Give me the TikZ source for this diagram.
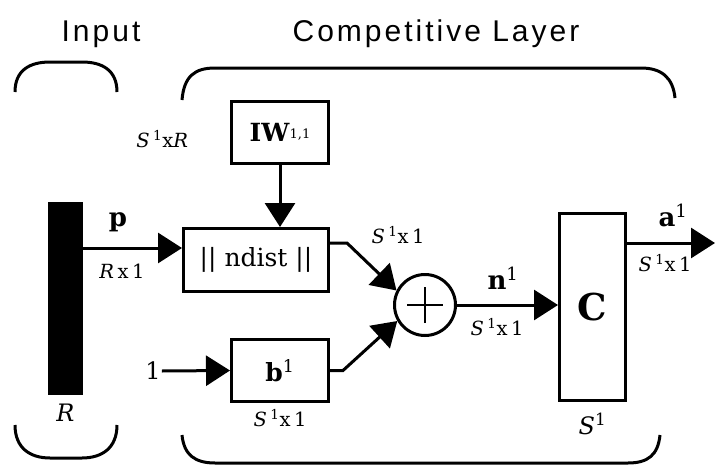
\documentclass[tikz,border=0pt]{standalone}
\usepackage{fontspec}
\setmainfont{DejaVu Serif}
\newfontfamily\headfont[LetterSpace=10]{Liberation Sans}
\newfontfamily\dimfont[LetterSpace=18]{DejaVu Serif}
\usetikzlibrary{arrows.meta, positioning}

\begin{document}
\begin{tikzpicture}[
  x=1pt, y=-1pt,
  node distance=4pt,
  box/.style={rectangle, draw=black, line width=3pt, inner sep=0pt,
              font=\fontsize{25}{27}\selectfont},
  wBox/.style={box, minimum width=97pt, minimum height=62pt},
  barBox/.style={rectangle, fill=black, inner sep=0pt, minimum width=35pt, minimum height=193pt},
  sumNode/.style={circle, draw=black, line width=3pt, inner sep=0pt, minimum size=61pt},
  headLbl/.style={font=\fontsize{30}{32}\headfont, anchor=base, inner sep=0pt},
  varLbl/.style={font=\fontsize{26}{28}\selectfont\bfseries, inner sep=1pt},
  dimLbl/.style={font=\fontsize{19.5}{21}\dimfont, inner sep=1pt},
  sizeLbl/.style={font=\fontsize{24}{26}\selectfont, inner sep=1pt},
  arr/.style={-{Triangle[length=24pt, width=30pt]}, line width=3pt},
  brc/.style={line width=3pt}
]
\useasboundingbox (0,0) rectangle (716,466);
\node[headLbl] (inTitle) at (101,41) {Input};
\node[headLbl] (clTitle) at (436,41) {Competitive Layer};
% blocks
\node[barBox] (bar) at (65.5,298.5) {};
\node[box, minimum width=145pt, minimum height=63pt] (ndist) at (256,260) {||\hspace{8pt}ndist\hspace{8pt}||};
\node[wBox] (iw) at (280,132.5) {\textbf{IW}\raisebox{3pt}{\fontsize{13}{14}\selectfont 1,1}};
\node[wBox] (bias) at (280,370.5) {\textbf{b}\textsuperscript{1}};
\node[sumNode] (sum) at (425,305) {};
\node[box, minimum width=66pt, minimum height=187pt, font=\fontsize{37}{40}\selectfont\bfseries] (comp) at (592.5,307) {C};
\node[sizeLbl] (one) at (153,371) {1};
\coordinate (out) at (715,243);
% labels
\node[sizeLbl, below=8pt of bar] (rLbl) {\textit{R}};
\node[sizeLbl, below=10pt of comp] (sLbl) {\textit{S}\textsuperscript{1}};
\node[varLbl] (pLbl) at (118,222) {p};
\node[dimLbl] (pDim) at (122,271) {\textit{R}x1};
\node[dimLbl] (iwDim) at (164,139) {\textit{S}\textsuperscript{1}x\textit{R}};
\node[dimLbl] (ndDim) at (398,235) {\textit{S}\textsuperscript{1}x1};
\node[dimLbl, below=5pt of bias] (bDim) {\textit{S}\textsuperscript{1}x1};
\node[varLbl] (nLbl) at (503,278) {n\textsuperscript{\mdseries 1}};
\node[dimLbl] (nDim) at (497,327) {\textit{S}\textsuperscript{1}x1};
\node[varLbl] (aLbl) at (673,215) {a\textsuperscript{\mdseries 1}};
\node[dimLbl] (aDim) at (665,263) {\textit{S}\textsuperscript{1}x1};
% connectors
\draw[arr] ([yshift=12pt]ndist.west -| bar.east) -- ([yshift=12pt]ndist.west);
\draw[arr] (iw.south) -- (iw.south |- ndist.north);
\draw[arr] (one.east) -- (bias.west);
\draw[arr] ([yshift=17pt]ndist.east) -- ++(17,0) -- (sum.153);
\draw[arr] (bias.east) -- ++(13,0) -- (sum.210);
\draw[arr] (sum.east) -- (comp.west |- sum.east);
\draw[arr] (comp.east |- out) -- (out);
\draw[line width=2pt] ([xshift=-18pt]sum.center) -- ([xshift=18pt]sum.center)
  ([yshift=-18pt]sum.center) -- ([yshift=18pt]sum.center);
% braces
\draw[brc] (15,92) .. controls (15,70) and (30,62) .. (50,62) -- (82,62) .. controls (102,62) and (117,70) .. (117,92);
\draw[brc] (182,100) .. controls (184,76) and (195,68) .. (215,68) -- (641,68) .. controls (662,68) and (673,78) .. (675,98);
\draw[brc] (15,425) .. controls (15,448) and (30,458) .. (50,458) -- (82,458) .. controls (102,458) and (117,448) .. (117,425);
\draw[brc] (182,435) .. controls (184,455) and (195,463) .. (215,463) -- (628,463) .. controls (648,463) and (658,455) .. (660,435);
\end{tikzpicture}
\end{document}
